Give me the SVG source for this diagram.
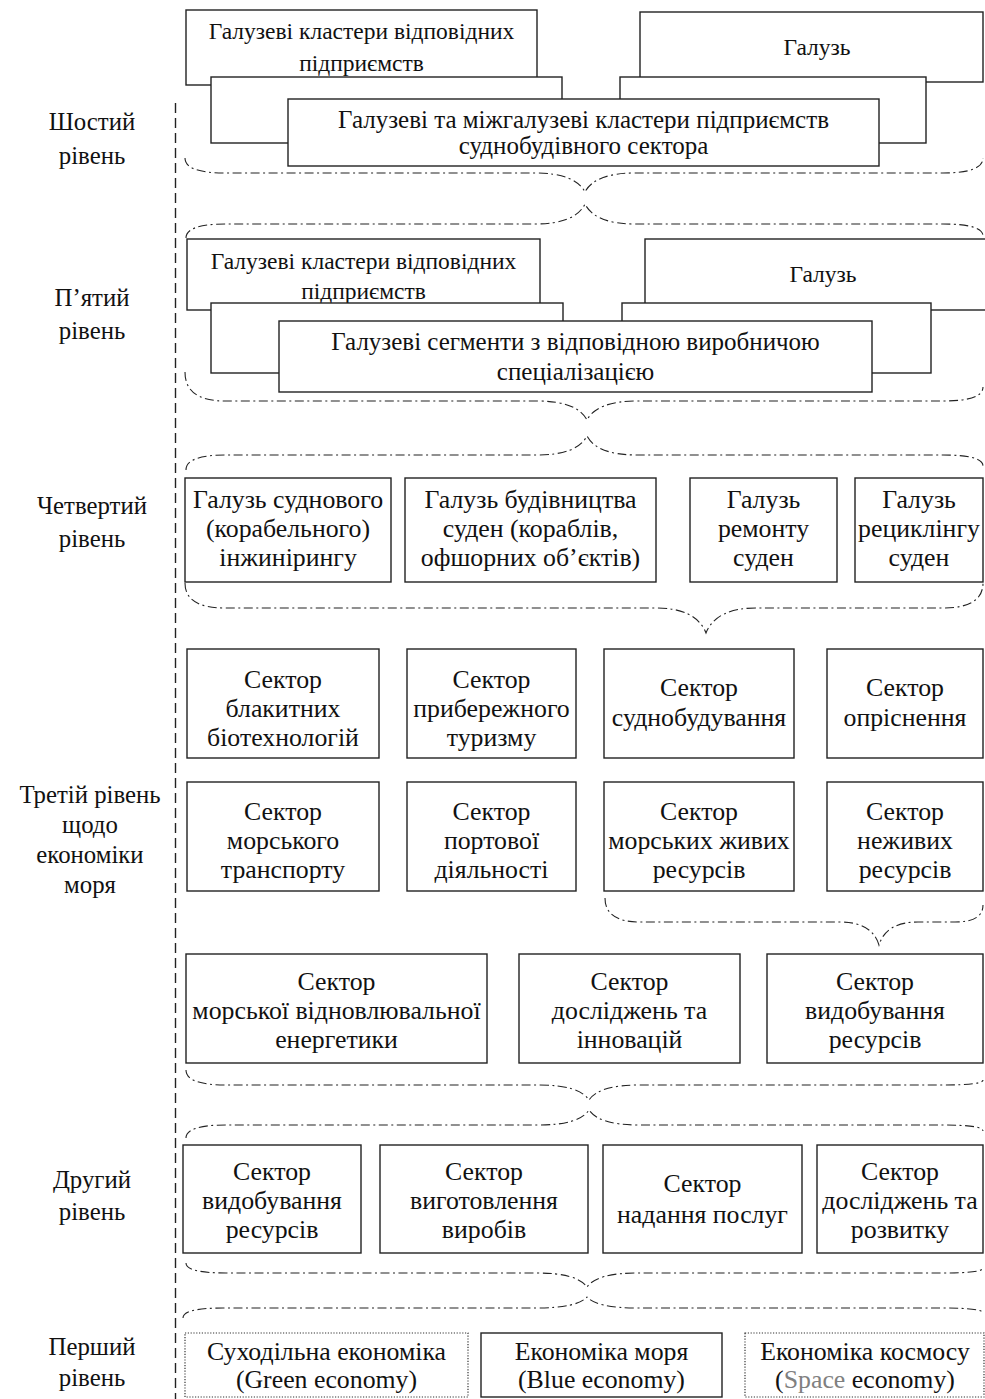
<svg xmlns="http://www.w3.org/2000/svg" width="985" height="1399" viewBox="0 0 985 1399">
<style>
text{font-family:"Liberation Serif","Times New Roman",serif;fill:#111;text-anchor:middle}
.s23 text{font-size:23.5px}
.s25 text{font-size:25px}
.lv text{font-size:24.8px}
.s26 text{font-size:25.8px}
.b{fill:#fff;stroke:#222;stroke-width:1.4}
.d{fill:#fff;stroke:#333;stroke-width:1.2;stroke-dasharray:1.2 1.6}
.br{fill:none;stroke:#222;stroke-width:1.1;stroke-dasharray:9 3.5 2 3.5}
.vl{fill:none;stroke:#222;stroke-width:1.4;stroke-dasharray:10 5}
.g{fill:#808080}
</style>
<rect width="985" height="1399" fill="#fff"/>
<g id="levels" class="lv">
<text x="92" y="130">Шостий</text><text x="92" y="164">рівень</text>
<text x="92" y="306">П’ятий</text><text x="92" y="339">рівень</text>
<text x="92" y="514">Четвертий</text><text x="92" y="547">рівень</text>
<text x="90" y="803">Третій рівень</text><text x="90" y="833">щодо</text><text x="90" y="863">економіки</text><text x="90" y="893">моря</text>
<text x="92" y="1188">Другий</text><text x="92" y="1220">рівень</text>
<text x="92" y="1355">Перший</text><text x="92" y="1386">рівень</text>
</g>
<g id="connectors">
<path class="vl" d="M175.5 103 V1399"/>
<path class="br" d="M185 158 Q185 173 225 173 L535 173 Q575 173 585 192 Q595 173 635 173 L943 173 Q983 173 983 158"/>
<path class="br" d="M186 238 Q186 224 226 224 L535 224 Q575 224 585 204 Q595 224 635 224 L943 224 Q983 224 983 236"/>
<path class="br" d="M185 372 Q185 401 225 401 L537 401 Q577 401 587 420 Q597 401 637 401 L943 401 Q983 401 983 387"/>
<path class="br" d="M186 470 Q186 455 226 455 L537 455 Q577 455 587 436 Q597 455 637 455 L943 455 Q983 455 983 466"/>
<path class="br" d="M185 583 Q185 608 225 608 L656 608 Q696 608 706 633 Q716 608 756 608 L943 608 Q983 608 983 583"/>
<path class="br" d="M605 898 Q605 922 640 922 L840 922 Q872 922 879 945 Q886 922 918 922 L955 922 Q983 922 983 905"/>
<path class="br" d="M186 1070 Q186 1085 226 1085 L539 1085 Q579 1085 589 1100 Q599 1085 639 1085 L943 1085 Q983 1085 983 1080"/>
<path class="br" d="M186 1138 Q186 1125 226 1125 L539 1125 Q579 1125 589 1110 Q599 1125 639 1125 L943 1125 Q983 1125 983 1131"/>
<path class="br" d="M186 1263 Q186 1273 226 1273 L537 1273 Q577 1273 587 1287 Q597 1273 637 1273 L943 1273 Q983 1273 983 1268"/>
<path class="br" d="M183 1318 Q183 1308 223 1308 L537 1308 Q577 1308 587 1297 Q597 1308 637 1308 L943 1308 Q983 1308 983 1313"/>
</g>
<g id="l6-cluster" class="s23"><rect class="b" x="186" y="10" width="351" height="75"/><text x="361.5" y="39">Галузеві кластери відповідних</text><text x="361.5" y="71">підприємств</text></g>
<g id="l6-branch" class="s23"><rect class="b" x="640" y="12" width="343" height="70"/><text x="817" y="55">Галузь</text></g>
<g id="l6-back-left"><rect class="b" x="211" y="77" width="351" height="66"/></g>
<g id="l6-back-right"><rect class="b" x="620" y="77" width="306" height="66"/></g>
<g id="l6-main" class="s25"><rect class="b" x="288" y="99" width="591" height="67"/><text x="583.5" y="128">Галузеві та міжгалузеві кластери підприємств</text><text x="583.5" y="153.5">суднобудівного сектора</text></g>
<g id="l5-cluster" class="s23"><rect class="b" x="187" y="239" width="353" height="71"/><text x="363.5" y="269">Галузеві кластери відповідних</text><text x="363.5" y="299">підприємств</text></g>
<g id="l5-branch" class="s23"><rect class="b" x="645" y="239" width="356" height="71"/><text x="823" y="282">Галузь</text></g>
<g id="l5-back-left"><rect class="b" x="211" y="303" width="352" height="70"/></g>
<g id="l5-back-right"><rect class="b" x="622" y="303" width="309" height="70"/></g>
<g id="l5-main" class="s25"><rect class="b" x="279" y="321" width="593" height="71"/><text x="575.5" y="350">Галузеві сегменти з відповідною виробничою</text><text x="575.5" y="380">спеціалізацією</text></g>
<g class="s26">
<g id="l4-engineering"><rect class="b" x="185" y="478" width="206" height="104"/><text x="288" y="508">Галузь суднового</text><text x="288" y="537">(корабельного)</text><text x="288" y="566">інжинірингу</text></g>
<g id="l4-building"><rect class="b" x="405" y="478" width="251" height="104"/><text x="530.5" y="508">Галузь будівництва</text><text x="530.5" y="537">суден (кораблів,</text><text x="530.5" y="566">офшорних об’єктів)</text></g>
<g id="l4-repair"><rect class="b" x="690" y="478" width="147" height="104"/><text x="763.5" y="508">Галузь</text><text x="763.5" y="537">ремонту</text><text x="763.5" y="566">суден</text></g>
<g id="l4-recycling"><rect class="b" x="855" y="478" width="128" height="104"/><text x="919" y="508">Галузь</text><text x="919" y="537">рециклінгу</text><text x="919" y="566">суден</text></g>
<g id="l3-biotech"><rect class="b" x="187" y="649" width="192" height="109"/><text x="283" y="688">Сектор</text><text x="283" y="717">блакитних</text><text x="283" y="746">біотехнологій</text></g>
<g id="l3-tourism"><rect class="b" x="407" y="649" width="169" height="109"/><text x="491.5" y="688">Сектор</text><text x="491.5" y="717">прибережного</text><text x="491.5" y="746">туризму</text></g>
<g id="l3-shipbuilding"><rect class="b" x="604" y="649" width="190" height="109"/><text x="699" y="696">Сектор</text><text x="699" y="726">суднобудування</text></g>
<g id="l3-desalination"><rect class="b" x="827" y="649" width="156" height="109"/><text x="905" y="696">Сектор</text><text x="905" y="726">опріснення</text></g>
<g id="l3-transport"><rect class="b" x="187" y="782" width="192" height="109"/><text x="283" y="820">Сектор</text><text x="283" y="849">морського</text><text x="283" y="878">транспорту</text></g>
<g id="l3-port"><rect class="b" x="407" y="782" width="169" height="109"/><text x="491.5" y="820">Сектор</text><text x="491.5" y="849">портової</text><text x="491.5" y="878">діяльності</text></g>
<g id="l3-living"><rect class="b" x="604" y="782" width="190" height="109"/><text x="699" y="820">Сектор</text><text x="699" y="849">морських живих</text><text x="699" y="878">ресурсів</text></g>
<g id="l3-nonliving"><rect class="b" x="827" y="782" width="156" height="109"/><text x="905" y="820">Сектор</text><text x="905" y="849">неживих</text><text x="905" y="878">ресурсів</text></g>
<g id="l3-energy"><rect class="b" x="186" y="954" width="301" height="109"/><text x="336.5" y="990">Сектор</text><text x="336.5" y="1019">морської відновлювальної</text><text x="336.5" y="1048">енергетики</text></g>
<g id="l3-research"><rect class="b" x="519" y="954" width="221" height="109"/><text x="629.5" y="990">Сектор</text><text x="629.5" y="1019">досліджень та</text><text x="629.5" y="1048">інновацій</text></g>
<g id="l3-extraction"><rect class="b" x="767" y="954" width="216" height="109"/><text x="875" y="990">Сектор</text><text x="875" y="1019">видобування</text><text x="875" y="1048">ресурсів</text></g>
<g id="l2-extraction"><rect class="b" x="183" y="1145" width="178" height="108"/><text x="272" y="1180">Сектор</text><text x="272" y="1209">видобування</text><text x="272" y="1238">ресурсів</text></g>
<g id="l2-manufacturing"><rect class="b" x="380" y="1145" width="208" height="108"/><text x="484" y="1180">Сектор</text><text x="484" y="1209">виготовлення</text><text x="484" y="1238">виробів</text></g>
<g id="l2-services"><rect class="b" x="603" y="1145" width="199" height="108"/><text x="702.5" y="1192">Сектор</text><text x="702.5" y="1223">надання послуг</text></g>
<g id="l2-rnd"><rect class="b" x="817" y="1145" width="166" height="108"/><text x="900" y="1180">Сектор</text><text x="900" y="1209">досліджень та</text><text x="900" y="1238">розвитку</text></g>
<g id="l1-green"><rect class="d" x="185" y="1333" width="283" height="64"/><text x="326.5" y="1360">Суходільна економіка</text><text x="326.5" y="1388">(Green economy)</text></g>
<g id="l1-blue"><rect class="b" x="481" y="1333" width="241" height="64"/><text x="601.5" y="1360">Економіка моря</text><text x="601.5" y="1388">(Blue economy)</text></g>
<g id="l1-space"><rect class="d" x="745" y="1333" width="239" height="64"/><text x="865" y="1360">Економіка космосу</text><text x="865" y="1388">(<tspan class="g">Space</tspan> economy)</text></g>
</g>
</svg>
